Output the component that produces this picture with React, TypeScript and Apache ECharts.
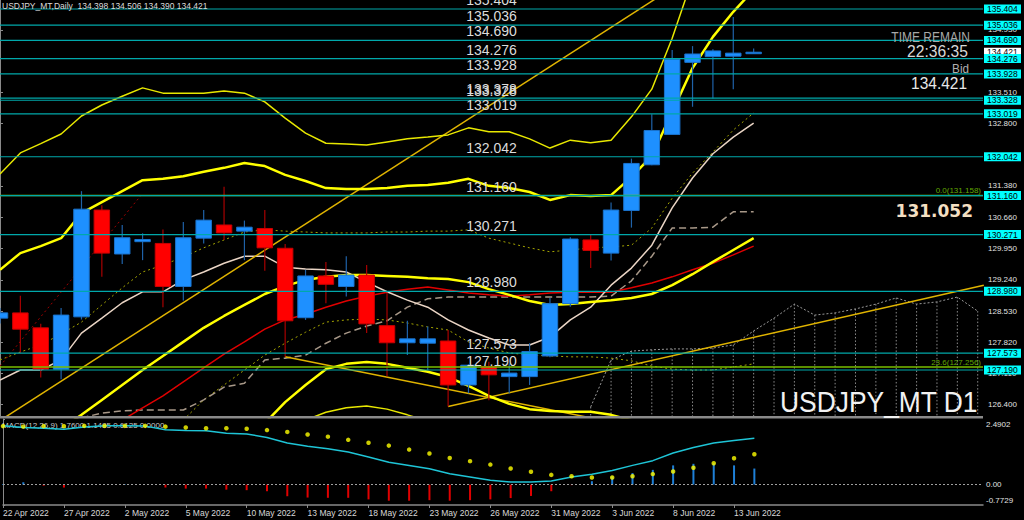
import React, { useEffect, useRef } from "react";
import * as echarts from "echarts";

const FONT = '"Liberation Sans", Arial, sans-serif';

// ---------- data ----------
const dates = [
  "22 Apr 2022", "25 Apr 2022", "26 Apr 2022", "27 Apr 2022", "28 Apr 2022", "29 Apr 2022",
  "2 May 2022", "3 May 2022", "4 May 2022", "5 May 2022", "6 May 2022", "9 May 2022",
  "10 May 2022", "11 May 2022", "12 May 2022", "13 May 2022", "16 May 2022", "17 May 2022",
  "18 May 2022", "19 May 2022", "20 May 2022", "23 May 2022", "24 May 2022", "25 May 2022",
  "26 May 2022", "27 May 2022", "30 May 2022", "31 May 2022", "1 Jun 2022", "2 Jun 2022",
  "3 Jun 2022", "6 Jun 2022", "7 Jun 2022", "8 Jun 2022", "9 Jun 2022", "10 Jun 2022",
  "13 Jun 2022", "14 Jun 2022",
];
const dateTickIdx = [0, 3, 6, 9, 12, 15, 18, 21, 24, 27, 30, 33, 36];

const opens = [128.37, 128.49, 128.15, 127.21, 128.40, 130.83, 129.83, 130.11, 130.07, 129.09, 130.19, 130.49, 130.35, 130.41, 129.96, 128.38, 129.33, 129.09, 129.35, 128.20, 127.81, 127.80, 127.85, 126.85, 127.27, 127.04, 127.04, 127.51, 128.70, 130.15, 129.85, 130.82, 131.86, 132.55, 134.19, 134.32, 134.33, 134.398];
const highs = [128.60, 128.88, 128.24, 128.60, 131.26, 130.94, 130.49, 130.30, 130.39, 130.56, 130.83, 131.36, 130.59, 130.83, 130.06, 129.47, 129.65, 129.78, 129.58, 128.96, 128.31, 128.18, 128.10, 127.32, 127.38, 127.34, 127.80, 128.83, 130.21, 130.27, 131.00, 132.00, 133.01, 134.47, 134.56, 134.49, 135.22, 134.506];
const lows = [128.25, 127.57, 127.02, 126.98, 128.34, 129.31, 129.60, 129.69, 128.62, 128.77, 130.07, 130.15, 129.69, 129.45, 127.49, 128.33, 128.71, 128.86, 128.03, 127.05, 127.53, 127.19, 126.36, 126.66, 126.50, 126.66, 126.85, 127.48, 128.63, 129.51, 129.68, 130.43, 131.85, 132.55, 133.18, 133.37, 133.58, 134.390];
const closes = [128.49, 128.12, 127.21, 128.44, 130.85, 129.85, 130.20, 130.16, 129.09, 130.20, 130.60, 130.31, 130.44, 129.97, 128.31, 129.33, 129.14, 129.35, 128.24, 127.81, 127.90, 127.90, 126.85, 127.30, 127.08, 127.12, 127.61, 128.70, 130.17, 129.91, 130.83, 131.89, 132.64, 134.26, 134.38, 134.45, 134.40, 134.421];

// indicator lines on the price panel
const bandUpper3 = [131.65, 132.13, 132.34, 132.56, 132.97, 133.22, 133.42, 133.61, 133.49, 133.49, 133.49, 133.54, 133.49, 133.29, 132.92, 132.58, 132.35, 132.33, 132.31, 132.38, 132.45, 132.49, 132.54, 132.70, 132.61, 132.61, 132.45, 132.24, 132.42, 132.36, 132.42, 132.95, 133.58, 134.74, 136.1, null, null, null];
const bandUpper2 = [129.47, 129.85, 130.01, 130.19, 130.76, 131.01, 131.26, 131.51, 131.54, 131.60, 131.70, 131.79, 131.90, 131.83, 131.63, 131.49, 131.33, 131.31, 131.31, 131.33, 131.38, 131.40, 131.45, 131.54, 131.38, 131.33, 131.24, 131.06, 131.17, 131.15, 131.17, 131.58, 132.06, 133.06, 134.06, 134.77, 135.34, 135.84];
const bandMiddle = [null, null, null, 125.85, 126.17, 126.51, 126.85, 127.19, 127.51, 127.83, 128.15, 128.42, 128.67, 128.92, 129.10, 129.24, 129.31, 129.35, 129.35, 129.33, 129.31, 129.28, 129.26, 129.19, 129.03, 128.90, 128.76, 128.67, 128.69, 128.74, 128.78, 128.83, 128.92, 129.12, 129.37, 129.65, 129.92, 130.19];
const bandLower2 = [null, null, null, null, null, null, null, null, null, null, null, null, null, 125.98, 126.46, 126.85, 127.21, 127.33, 127.37, 127.33, 127.24, 127.15, 127.03, 126.83, 126.60, 126.42, 126.30, 126.26, 126.24, 126.24, 126.17, 126.05, null, null, null, null, null, null];
const bandLower3 = [null, null, null, null, null, null, null, null, null, null, null, null, null, null, null, 126.05, 126.23, 126.33, 126.37, 126.30, 126.17, 126.03, null, null, null, null, null, null, null, null, null, null, null, null, null, null, null, null];
const maRed = [null, null, null, null, null, 125.75, 126.05, 126.33, 126.60, 126.92, 127.24, 127.55, 127.83, 128.12, 128.33, 128.46, 128.62, 128.76, 128.87, 128.96, 129.03, 129.08, 129.01, 128.94, 128.90, 128.87, 128.90, 128.94, 128.96, 128.96, 128.96, 129.06, 129.17, 129.31, 129.47, 129.62, 129.81, 130.01];
const tenkan = [126.96, 127.19, 127.19, 127.42, 128.03, 128.37, 128.72, 128.97, 128.97, 129.24, 129.42, 129.62, 129.78, 129.78, 129.53, 129.49, 129.47, 129.42, 129.19, 128.97, 128.78, 128.62, 128.33, 128.10, 127.92, 127.76, 127.76, 127.94, 128.33, 128.62, 129.12, 129.51, 130.03, 130.88, 131.56, 132.11, 132.49, 132.81];
const kijun = [null, null, null, null, 126.10, 126.21, 126.26, 126.28, 126.28, 126.28, 126.51, 126.80, 126.89, 127.42, 127.46, 127.53, 127.80, 128.03, 128.19, 128.31, 128.62, 128.81, 128.85, 128.85, 128.85, 128.85, 128.85, 128.85, 128.85, 128.85, 128.87, 129.22, 129.78, 130.42, 130.42, 130.44, 130.79, 130.79];
const dottedUpper = [127.42, 127.60, 127.76, 128.01, 128.28, 128.67, 129.06, 129.42, 129.58, 129.76, 129.97, 130.15, 130.33, 130.38, 130.35, 130.33, 130.31, 130.31, 130.31, 130.33, 130.33, 130.35, 130.35, 130.38, 130.19, 130.08, 129.97, 129.88, 129.92, 129.97, 129.99, 130.03, 130.42, 131.10, 131.67, 132.15, 132.65, 133.04];
const dottedLower = [null, null, null, null, null, null, null, null, null, 126.05, 126.51, 126.85, 127.19, 127.53, 127.80, 128.05, 128.28, 128.33, 128.35, 128.33, 128.26, 128.17, 128.10, 127.83, 127.69, 127.58, 127.53, 127.51, 127.49, 127.49, 127.46, 127.40, 127.28, 127.21, 127.19, 127.19, 127.26, 127.33];
const cloudStart = 29;
const cloudTop = [126.35, 127.42, 127.62, 127.65, 127.67, 127.67, 127.69, 127.76, 128.08, 128.37, 128.69, 128.44, 128.49, 128.58, 128.69, 128.83, 128.69, 128.74, 128.85, 128.53];

// straight drawn lines: [barIndex, price]
const trendA = [[0, 126.04], [33, 135.88]];
const trendB = [[14, 127.49], [30, 126.01]];
const trendC = [[22, 126.36], [48.3, 129.12]];
const fibDiagonal = [[0, 127.28], [6.915, 131.158]];

// horizontal levels
const levels = [135.404, 135.036, 134.69, 134.276, 133.928, 133.378, 133.328, 133.019, 132.042, 131.16, 130.271, 128.98, 127.573, 127.19];
const levelHasBox = [true, true, true, true, true, false, true, true, true, true, true, true, true, true];
const fibLevels = [131.158, 127.256];
const fibNames = ["0.0", "23.6"];
const bidPrice = 134.421;

const priceMin = 126.121;
const priceMax = 135.609;
const priceTicks = [126.4, 127.11, 127.82, 128.53, 129.24, 129.95, 130.66, 131.38, 132.8, 133.51, 134.93];

// MACD panel
const macdMain = [2.23, 2.17, 2.14, 2.10, 2.19, 2.23, 2.23, 2.22, 2.08, 2.05, 2.04, 1.95, 1.92, 1.79, 1.58, 1.46, 1.36, 1.24, 1.05, 0.85, 0.73, 0.60, 0.41, 0.29, 0.17, 0.10, 0.10, 0.14, 0.29, 0.39, 0.54, 0.73, 0.91, 1.20, 1.41, 1.58, 1.67, 1.76];
const macdSignal = [2.22, 2.20, 2.22, 2.22, 2.23, 2.23, 2.23, 2.23, 2.20, 2.17, 2.14, 2.14, 2.12, 2.07, 2.00, 1.90, 1.82, 1.70, 1.59, 1.48, 1.33, 1.18, 1.01, 0.89, 0.76, 0.61, 0.49, 0.37, 0.32, 0.27, 0.27, 0.32, 0.40, 0.50, 0.64, 0.81, 1.00, 1.15];
const macdHist = [0.02, 0.09, -0.04, -0.11, 0.02, 0.0, 0.02, 0.0, -0.11, -0.15, -0.15, -0.19, -0.21, -0.25, -0.44, -0.49, -0.50, -0.50, -0.56, -0.61, -0.61, -0.59, -0.61, -0.59, -0.56, -0.51, -0.43, -0.25, -0.02, 0.13, 0.31, 0.44, 0.56, 0.73, 0.79, 0.81, 0.73, 0.61];
const macdMin = -0.7729;
const macdMax = 2.4902;
const macdTicks = [-0.7729, 0, 2.4902];

const xMin = 0;
const xMax = 48.26;

// ---------- option ----------
function xy(arr: (number | null)[]) {
  return arr.map((v, i) => (v == null ? null : [i, v])).filter(Boolean) as number[][];
}

function lineSeries(data: number[][], color: string, width: number, type: any = "solid", z = 3) {
  return {
    type: "line",
    xAxisIndex: 0,
    yAxisIndex: 0,
    data,
    symbol: "none",
    showSymbol: false,
    clip: true,
    silent: true,
    z,
    lineStyle: { color, width, type },
  };
}

function buildOption() {
  const candleData = opens.map((o, i) => [i, o, closes[i], lows[i], highs[i]]);

  return {
    animation: false,
    backgroundColor: "#000000",
    grid: [
      { left: -1, top: 0, width: 984, height: 417 },
      { left: -1, top: 419, width: 984, height: 86 },
    ],
    xAxis: [
      { type: "value", gridIndex: 0, min: xMin, max: xMax, show: false },
      {
        type: "value",
        gridIndex: 1,
        min: xMin,
        max: xMax,
        position: "bottom",
        axisLine: { show: true, onZero: false, lineStyle: { color: "#8a8a8a", width: 1.5 } },
        axisTick: { show: true, customValues: dateTickIdx, length: 3, lineStyle: { color: "#8a8a8a" } },
        axisLabel: {
          customValues: dateTickIdx,
          formatter: (v: number) => dates[Math.round(v)] || "",
          align: "left",
          margin: 3,
          color: "#d8d8d8",
          fontSize: 8.5,
          fontFamily: FONT,
        },
        splitLine: { show: false },
      },
    ],
    yAxis: [
      {
        type: "value",
        gridIndex: 0,
        min: priceMin,
        max: priceMax,
        position: "right",
        axisLine: { show: true, lineStyle: { color: "#8a8a8a", width: 1 } },
        axisTick: { show: true, customValues: priceTicks, length: 3, lineStyle: { color: "#8a8a8a" } },
        axisLabel: {
          customValues: priceTicks,
          formatter: (v: number) => v.toFixed(3),
          margin: 5,
          color: "#e0e0e0",
          fontSize: 8,
          fontFamily: FONT,
        },
        splitLine: { show: false },
      },
      {
        type: "value",
        gridIndex: 1,
        min: macdMin,
        max: macdMax,
        position: "right",
        axisLine: { show: true, lineStyle: { color: "#8a8a8a", width: 1 } },
        axisTick: { show: true, customValues: macdTicks, length: 2, lineStyle: { color: "#8a8a8a" } },
        axisLabel: {
          customValues: macdTicks,
          margin: 3,
          formatter: (v: number) =>
            v === 0 ? "{m|0.00}" : v > 0 ? "{t|" + v.toFixed(4) + "}" : "{b|" + v.toFixed(4) + "}",
          rich: {
            t: { padding: [10, 0, 0, 0], color: "#e0e0e0", fontSize: 8, fontFamily: FONT },
            m: { color: "#e0e0e0", fontSize: 8, fontFamily: FONT },
            b: { padding: [0, 0, 9, 0], color: "#e0e0e0", fontSize: 8, fontFamily: FONT },
          },
        },
        splitLine: { show: false },
      },
    ],
    series: [
      // ichimoku future cloud hatching
      {
        type: "custom",
        xAxisIndex: 0,
        yAxisIndex: 0,
        clip: true,
        silent: true,
        z: 1,
        data: cloudTop.map((v, k) => [cloudStart + k, v]),
        encode: { x: 0, y: 1 },
        renderItem: (params: any, api: any) => {
          const top = api.coord([api.value(0), api.value(1)]);
          const bot = api.coord([api.value(0), priceMin]);
          return {
            type: "line",
            shape: { x1: top[0], y1: top[1], x2: bot[0], y2: bot[1] },
            style: { stroke: "#8c8c8c", lineWidth: 1, lineDash: [1.5, 2] },
          };
        },
      },
      lineSeries(cloudTop.map((v, k) => [cloudStart + k, v]), "#9a9a9a", 1, [2, 2], 2),
      // indicator lines
      lineSeries(xy(dottedLower), "#a6a600", 1, [2, 3]),
      lineSeries(xy(dottedUpper), "#a6a600", 1, [2, 3]),
      lineSeries(xy(kijun), "#a89888", 1.5, [7, 4]),
      lineSeries(xy(maRed), "#e00000", 1.5),
      lineSeries(xy(tenkan), "#ead5c5", 1.5),
      lineSeries(trendA, "#e0b400", 1.5),
      lineSeries(trendB, "#e0b400", 1.5),
      lineSeries(trendC, "#e0b400", 1.5),
      lineSeries(fibDiagonal, "#a00000", 1, [2, 3]),
      lineSeries(xy(bandUpper3), "#e8e800", 1.5),
      lineSeries(xy(bandLower3), "#e8e800", 1.5),
      lineSeries(xy(bandUpper2), "#ffff00", 2.5),
      lineSeries(xy(bandMiddle), "#ffff00", 2.5),
      lineSeries(xy(bandLower2), "#ffff00", 2.5),
      // candles
      {
        type: "custom",
        xAxisIndex: 0,
        yAxisIndex: 0,
        clip: true,
        silent: true,
        z: 5,
        data: candleData,
        encode: { x: 0, y: [1, 2, 3, 4] },
        renderItem: (params: any, api: any) => {
          const i = api.value(0);
          const o = api.value(1);
          const c = api.value(2);
          const pO = api.coord([i, o]);
          const pC = api.coord([i, c]);
          const pL = api.coord([i, api.value(3)]);
          const pH = api.coord([i, api.value(4)]);
          const w = api.size([1, 0])[0] * 0.76;
          const bull = c >= o;
          const top = Math.min(pO[1], pC[1]);
          const h = Math.max(1.5, Math.abs(pO[1] - pC[1]));
          return {
            type: "group",
            children: [
              {
                type: "line",
                shape: { x1: pO[0], y1: pH[1], x2: pO[0], y2: pL[1] },
                style: { stroke: bull ? "#1f62a8" : "#a80000", lineWidth: 1.2 },
              },
              {
                type: "rect",
                shape: { x: pO[0] - w / 2, y: top, width: w, height: h },
                style: { fill: bull ? "#1e90ff" : "#ff0000", stroke: bull ? "#1a72cc" : "#c80000", lineWidth: 1 },
              },
            ],
          };
        },
      },
      // fibonacci levels
      {
        type: "custom",
        xAxisIndex: 0,
        yAxisIndex: 0,
        clip: false,
        silent: true,
        z: 6,
        data: fibLevels.map((v, k) => [1, v, k]),
        encode: { x: 0, y: 1 },
        renderItem: (params: any, api: any) => {
          const cs = params.coordSys;
          const v = api.value(1);
          const y = api.coord([1, v])[1];
          return {
            type: "group",
            children: [
              {
                type: "line",
                shape: { x1: cs.x, y1: y, x2: cs.x + cs.width, y2: y },
                style: { stroke: "#78be00", lineWidth: 1.5 },
              },
              {
                type: "text",
                style: {
                  text: fibNames[api.value(2)] + "(" + v.toFixed(3) + ")",
                  x: cs.x + cs.width - 2,
                  y: y - 1,
                  align: "right",
                  verticalAlign: "bottom",
                  fill: "#62a800",
                  fontSize: 8,
                  fontFamily: FONT,
                },
              },
            ],
          };
        },
      },
      // horizontal support / resistance levels
      {
        type: "custom",
        xAxisIndex: 0,
        yAxisIndex: 0,
        clip: false,
        silent: true,
        z: 7,
        data: levels.map((v) => [1, v]),
        encode: { x: 0, y: 1 },
        renderItem: (params: any, api: any) => {
          const cs = params.coordSys;
          const v = api.value(1);
          const y = api.coord([1, v])[1];
          return {
            type: "group",
            children: [
              {
                type: "line",
                shape: { x1: cs.x, y1: y, x2: cs.x + cs.width, y2: y },
                style: { stroke: "#00a8aa", lineWidth: 1.2 },
              },
              {
                type: "text",
                style: {
                  text: v.toFixed(3),
                  x: cs.x + cs.width / 2,
                  y: y - 2,
                  align: "center",
                  verticalAlign: "bottom",
                  fill: "#dcdcdc",
                  fontSize: 14,
                  fontFamily: FONT,
                },
              },
            ],
          };
        },
      },
      // price boxes on the right scale (bid first, then levels)
      {
        type: "custom",
        xAxisIndex: 0,
        yAxisIndex: 0,
        clip: false,
        silent: true,
        z: 10,
        data: [[1, bidPrice, 1]].concat(
          levels.filter((_, k) => levelHasBox[k]).map((v) => [1, v, 0])
        ),
        encode: { x: 0, y: 1 },
        renderItem: (params: any, api: any) => {
          const cs = params.coordSys;
          const v = api.value(1);
          const y = api.coord([1, v])[1];
          const x0 = cs.x + cs.width + 1;
          const isBid = api.value(2) === 1;
          return {
            type: "group",
            children: [
              {
                type: "rect",
                shape: { x: x0, y: y - 4.5, width: 37, height: 9 },
                style: { fill: isBid ? "#ffffff" : "#00ffff" },
              },
              {
                type: "text",
                style: {
                  text: v.toFixed(3),
                  x: x0 + 3,
                  y: y,
                  align: "left",
                  verticalAlign: "middle",
                  fill: "#000000",
                  fontSize: 8.5,
                  fontFamily: FONT,
                },
              },
            ],
          };
        },
      },
      // MACD panel
      {
        type: "bar",
        xAxisIndex: 1,
        yAxisIndex: 1,
        silent: true,
        z: 2,
        barWidth: 2,
        data: macdHist.map((v, i) => [i, v]),
        itemStyle: { color: (p: any) => (p.value[1] >= 0 ? "#1e7fd6" : "#e00000") },
        markLine: {
          silent: true,
          symbol: "none",
          label: { show: false },
          lineStyle: { color: "#a0a0a0", type: [2, 2], width: 1 },
          data: [{ yAxis: 0 }],
        },
      },
      {
        type: "line",
        xAxisIndex: 1,
        yAxisIndex: 1,
        silent: true,
        z: 3,
        symbol: "none",
        showSymbol: false,
        data: macdMain.map((v, i) => [i, v]),
        lineStyle: { color: "#1ec4d6", width: 1.5 },
      },
      {
        type: "scatter",
        xAxisIndex: 1,
        yAxisIndex: 1,
        silent: true,
        z: 4,
        symbolSize: 4.5,
        data: macdSignal.map((v, i) => [i, v]),
        itemStyle: { color: "#ffff00" },
      },
    ],
    graphic: {
      elements: [
        { type: "rect", silent: true, z: 50, shape: { x: 0, y: 416, width: 983, height: 2.5 }, style: { fill: "#8a8a8a" } },
        {
          type: "text", silent: true, z: 60, x: 2, y: 1,
          style: { text: "USDJPY_MT,Daily  134.398 134.506 134.390 134.421", fill: "#dcdcdc", fontSize: 8.5, fontFamily: FONT, verticalAlign: "top" },
        },
        {
          type: "text", silent: true, z: 1, x: 2, y: 421,
          style: { text: "MACD(12,26,9) 1.7600 1.1485 0.6125 0.0000", fill: "#c8c8c8", fontSize: 8, fontFamily: FONT, verticalAlign: "top" },
        },
        {
          type: "text", silent: true, z: 60, x: 970, y: 37, scaleX: 0.8,
          style: { text: "TIME REMAIN", fill: "#a8a8a8", fontSize: 15, fontFamily: FONT, align: "right", verticalAlign: "middle" },
        },
        {
          type: "text", silent: true, z: 60, x: 968, y: 51, scaleX: 0.95,
          style: { text: "22:36:35", fill: "#d8d8d8", fontSize: 16.5, fontFamily: FONT, align: "right", verticalAlign: "middle" },
        },
        {
          type: "text", silent: true, z: 60, x: 969, y: 69, scaleX: 0.9,
          style: { text: "Bid", fill: "#b0b0b0", fontSize: 13, fontFamily: FONT, align: "right", verticalAlign: "middle" },
        },
        {
          type: "text", silent: true, z: 60, x: 967, y: 82.5, scaleX: 0.91,
          style: { text: "134.421", fill: "#e8e8e8", fontSize: 17, fontFamily: FONT, align: "right", verticalAlign: "middle" },
        },
        {
          type: "text", silent: true, z: 60, x: 973, y: 211,
          style: { text: "131.052", fill: "#f3dfc2", fontSize: 17, fontWeight: "bold", fontFamily: '"DejaVu Sans", sans-serif', align: "right", verticalAlign: "middle" },
        },
        {
          type: "text", silent: true, z: 60, x: 780, y: 401, scaleX: 0.88,
          style: { text: "USDJPY_MT D1", fill: "#f2f2f2", fontSize: 30, fontFamily: FONT, align: "left", verticalAlign: "middle" },
        },
      ],
    },
  };
}

export default function App() {
  const ref = useRef<HTMLDivElement>(null);
  useEffect(() => {
    if (!ref.current) return;
    const chart = echarts.init(ref.current, undefined, { renderer: "svg" });
    chart.setOption(buildOption() as any);
    return () => chart.dispose();
  }, []);
  return (
    <div
      ref={ref}
      style={{ position: "fixed", left: 0, top: 0, width: 1024, height: 520, background: "#000000" }}
    />
  );
}
